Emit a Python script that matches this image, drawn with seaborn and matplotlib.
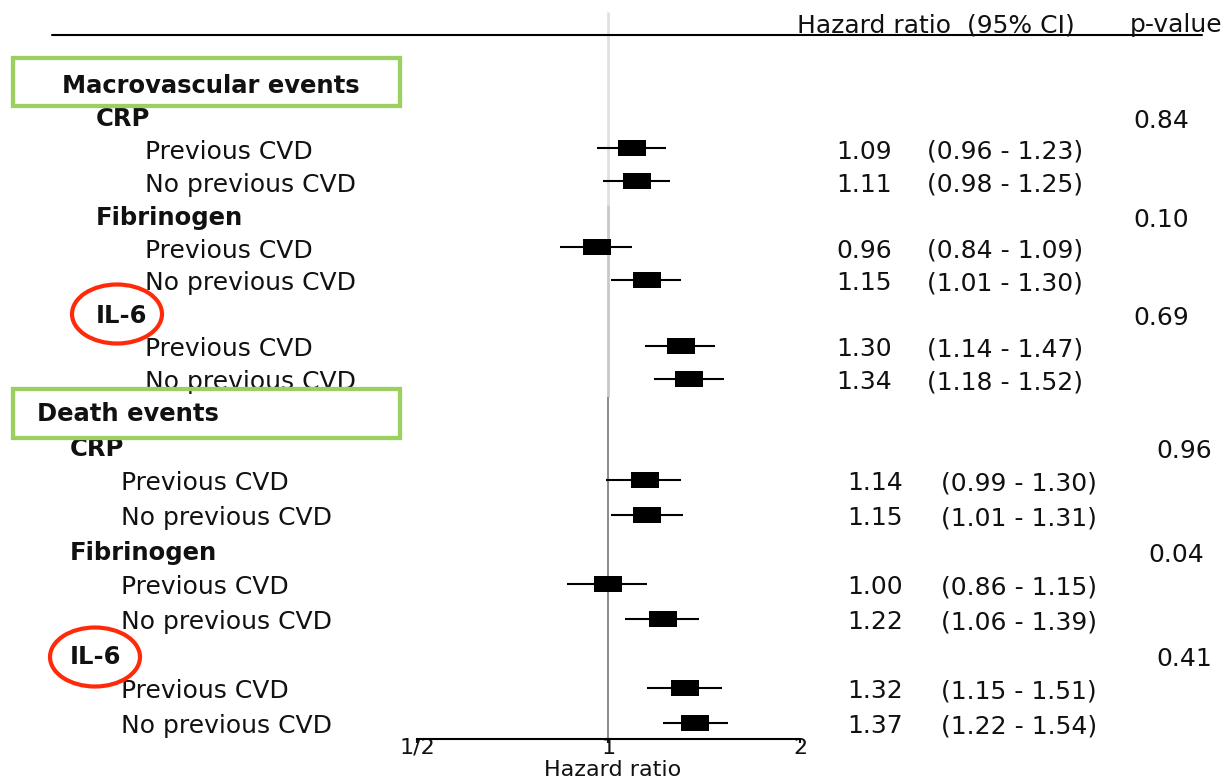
import numpy as np
import pandas as pd
import seaborn as sns
import matplotlib
matplotlib.use("Agg")
import matplotlib.pyplot as plt
from matplotlib.patches import Rectangle, Ellipse
from matplotlib.lines import Line2D
from matplotlib.transforms import Affine2D
from matplotlib.ticker import NullLocator

# ---------------- data ----------------
sections = ["Macrovascular events", "Death events"]
biomarkers = ["CRP", "Fibrinogen", "IL-6"]
subgroups = ["Previous CVD", "No previous CVD"]

hr_macro = [1.09, 1.11, 0.96, 1.15, 1.30, 1.34]
lo_macro = [0.96, 0.98, 0.84, 1.01, 1.14, 1.18]
hi_macro = [1.23, 1.25, 1.09, 1.30, 1.47, 1.52]
p_macro = ["0.84", "0.10", "0.69"]

hr_death = [1.14, 1.15, 1.00, 1.22, 1.32, 1.37]
lo_death = [0.99, 1.01, 0.86, 1.06, 1.15, 1.22]
hi_death = [1.30, 1.31, 1.15, 1.39, 1.51, 1.54]
p_death = ["0.96", "0.04", "0.41"]

xticks = [0.5, 1, 2]
xticklabels = ["1/2", "1", "2"]
header_hr = "Hazard ratio  (95% CI)"
header_p = "p-value"
xlabel = "Hazard ratio"

# ---------------- layout (pixels) ----------------
W, H = 1226, 781
panels = [
    dict(y0=85, dy=32.9, x_head=62, x_bio=96, x_sub=145, x_hr=836, x_ci=927,
         x_p=[1133, 1133, 1133], box=(13, 58, 387, 48), circle=(117, 314)),
    dict(y0=413, dy=34.67, x_head=37, x_bio=70, x_sub=121, x_hr=847, x_ci=941,
         x_p=[1156, 1148, 1156], box=(13, 389, 387, 49), circle=(95, 657)),
]
series = [(hr_macro, lo_macro, hi_macro, p_macro), (hr_death, lo_death, hi_death, p_death)]

sns.set_theme(style="white")
plt.rcParams["font.family"] = ["DejaVu Sans"]
TXT = "#111111"
FS = 18
FSB = 17.5

fig = plt.figure(figsize=(W / 100, H / 100), dpi=100)
ax = fig.add_axes([0, 0, 1, 1])
ax.set_facecolor("white")
px = Affine2D().scale(1 / W, -1 / H).translate(0, 1) + fig.transFigure

# log2 scale: 1/2 at px 417, 2 at px 800
ppd = (800 - 417) / 2.0
ax.set_xscale("log", base=2)
ax.set_xlim(2 ** (-1 - 417 / ppd), 2 ** (-1 + (W - 417) / ppd))
ax.set_ylim(H, 0)

# build a table of rows for the forest marks
rows = []
for pi, (pan, (hr, lo, hi, pv)) in enumerate(zip(panels, series)):
    for m in range(len(biomarkers)):
        for s in range(len(subgroups)):
            k = 2 + 3 * m + s
            i = 2 * m + s
            rows.append(dict(panel=pi, hr=hr[i], lo=lo[i], hi=hi[i],
                             y=pan["y0"] + k * pan["dy"] - 2.5))
df = pd.DataFrame(rows)

# reference lines at HR = 1
ax.vlines(1, 12, 205, color="#e0e0e0", lw=2.0, zorder=1)
ax.vlines(1, 205, 397, color="#c8c8c8", lw=2.0, zorder=1)
ax.vlines(1, 397, 739, color="#8a8a8a", lw=1.4, zorder=1)

# CI lines and boxes
ax.hlines(df["y"], df["lo"], df["hi"], color="black", lw=1.5, zorder=2)
box = [(-14, -8.5), (14, -8.5), (14, 8.5), (-14, 8.5), (-14, -8.5)]
sns.scatterplot(data=df, x="hr", y="y", marker=box, s=406, color="black",
                edgecolor="black", linewidth=0, legend=False, ax=ax, zorder=3)

# texts
for pi, (pan, (hr, lo, hi, pv)) in enumerate(zip(panels, series)):
    base = lambda k: pan["y0"] + k * pan["dy"] + 8
    ax.text(pan["x_head"], base(0), sections[pi], transform=px, fontsize=FSB,
            fontweight="bold", color=TXT, va="baseline", ha="left")
    for m, bio in enumerate(biomarkers):
        kb = 1 + 3 * m
        ax.text(pan["x_bio"], base(kb), bio, transform=px, fontsize=FSB,
                fontweight="bold", color=TXT, va="baseline", ha="left")
        ax.text(pan["x_p"][m], base(kb) + 2, pv[m], transform=px, fontsize=FS,
                color=TXT, va="baseline", ha="left")
        for s, sub in enumerate(subgroups):
            k = kb + 1 + s
            i = 2 * m + s
            ax.text(pan["x_sub"], base(k), sub, transform=px, fontsize=FS,
                    color=TXT, va="baseline", ha="left")
            ax.text(pan["x_hr"], base(k), f"{hr[i]:.2f}", transform=px, fontsize=FS,
                    color=TXT, va="baseline", ha="left")
            ax.text(pan["x_ci"], base(k), f"({lo[i]:.2f} - {hi[i]:.2f})", transform=px,
                    fontsize=FS, color=TXT, va="baseline", ha="left")
    bx, by, bw, bh = pan["box"]
    ax.add_patch(Rectangle((bx, by), bw, bh, transform=px, fill=False,
                           ec="#9bd060", lw=3.1, zorder=4))
    cx, cy = pan["circle"]
    ax.add_patch(Ellipse((cx, cy), 90, 59, transform=px, fill=False,
                         ec="#ff2a0a", lw=3.0, zorder=4))

# header
ax.text(797, 32, header_hr, transform=px, fontsize=FS, color=TXT, va="baseline", ha="left")
ax.text(1130, 32, header_p, transform=px, fontsize=FS, color=TXT, va="baseline", ha="left")
ax.add_line(Line2D([52, 1202], [35, 35], transform=px, color="black", lw=1.5))

# x axis
for side in ["left", "right", "top"]:
    ax.spines[side].set_visible(False)
ax.spines["bottom"].set_position(("data", 739))
ax.spines["bottom"].set_bounds(xticks[0], xticks[-1])
ax.spines["bottom"].set_linewidth(1.5)
ax.spines["bottom"].set_color("black")
ax.set_xticks(xticks)
ax.set_xticklabels(xticklabels)
ax.xaxis.set_minor_locator(NullLocator())
ax.tick_params(axis="x", which="major", direction="out", length=3, width=1.5,
               labelsize=16, pad=-4, colors=TXT, bottom=True)
ax.set_yticks([])
ax.set_xlabel("")
ax.set_ylabel("")
ax.text(613, 775.5, xlabel, transform=px, fontsize=16, color=TXT, va="baseline", ha="center")

fig.savefig("out.png", dpi=100, facecolor="white")
